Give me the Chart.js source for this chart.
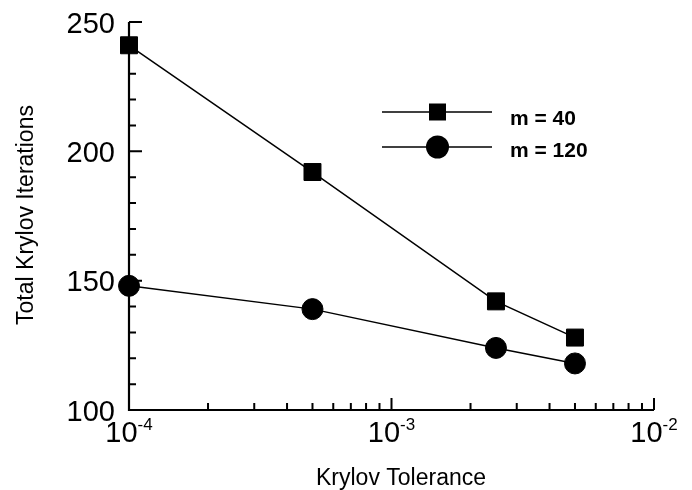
<!DOCTYPE html>
<html lang="en">
<head>
  <meta charset="UTF-8" />
  <title>Krylov Iterations</title>
  <script src="https://cdn.jsdelivr.net/npm/chart.js"></script>
  <style>
    body {
      margin: 0;
      background-color: #fff;
    }
    canvas {
      display: block;
    }
  </style>
</head>
<body>

  <canvas id="krylovChart" width="692" height="490"></canvas>

  <script>
    // data
    const tolerances = [1e-4, 5e-4, 2.5e-3, 5e-3];
    const itersM40 = [241, 192, 142, 128];
    const itersM120 = [148, 139, 124, 118];
    const seriesLabels = ['m = 40', 'm = 120'];

    const yTicks = [100, 150, 200, 250];
    const yMinorStep = 10;
    const xDecades = [-4, -3, -2];

    const FONT = '"Liberation Sans", Arial, Helvetica, sans-serif';

    function toPoints(xs, ys) {
      return xs.map((x, i) => ({ x: x, y: ys[i] }));
    }

    // hand drawn axes, inward ticks, labels and legend
    const axesPlugin = {
      id: 'axesPlugin',
      beforeDatasetsDraw(chart) {
        const ctx = chart.ctx;
        const xs = chart.scales.x;
        const ys = chart.scales.y;
        const a = chart.chartArea;
        ctx.save();
        ctx.strokeStyle = '#000';
        ctx.lineWidth = 2.2;
        ctx.beginPath();
        ctx.moveTo(a.left, a.top);
        ctx.lineTo(a.left, a.bottom);
        ctx.lineTo(a.right, a.bottom);
        ctx.stroke();

        ctx.lineWidth = 2;
        ctx.beginPath();
        // y ticks
        for (let v = ys.min; v <= ys.max; v += yMinorStep) {
          const py = ys.getPixelForValue(v);
          const len = yTicks.includes(v) ? 13 : 7;
          ctx.moveTo(a.left, py);
          ctx.lineTo(a.left + len, py);
        }
        // x ticks, decades and 2..9 minors
        xDecades.forEach((d, i) => {
          const base = Math.pow(10, d);
          const px = xs.getPixelForValue(base);
          ctx.moveTo(px, a.bottom);
          ctx.lineTo(px, a.bottom - 12);
          if (i < xDecades.length - 1) {
            for (let k = 2; k <= 9; k++) {
              const mx = xs.getPixelForValue(k * base);
              ctx.moveTo(mx, a.bottom);
              ctx.lineTo(mx, a.bottom - 7);
            }
          }
        });
        ctx.stroke();
        ctx.restore();
      },
      afterDraw(chart) {
        const ctx = chart.ctx;
        const xs = chart.scales.x;
        const ys = chart.scales.y;
        ctx.save();
        ctx.fillStyle = '#000';

        // y tick labels
        ctx.font = '29px ' + FONT;
        ctx.textAlign = 'right';
        ctx.textBaseline = 'alphabetic';
        yTicks.forEach(v => {
          ctx.fillText(String(v), 115, ys.getPixelForValue(v) + 10.5);
        });

        // x tick labels 10^d
        ctx.textAlign = 'left';
        xDecades.forEach(d => {
          const px = xs.getPixelForValue(Math.pow(10, d));
          ctx.font = '29px ' + FONT;
          const wBase = ctx.measureText('10').width;
          ctx.font = '17px ' + FONT;
          const sup = String(d);
          const wSup = ctx.measureText(sup).width;
          const x0 = px - (wBase + wSup) / 2;
          ctx.font = '29px ' + FONT;
          ctx.fillText('10', x0, 442);
          ctx.font = '17px ' + FONT;
          ctx.fillText(sup, x0 + wBase, 430);
        });

        // axis titles
        ctx.font = '23px ' + FONT;
        ctx.textAlign = 'center';
        ctx.fillText('Krylov Tolerance', 401, 485);
        ctx.save();
        ctx.translate(33, 215);
        ctx.rotate(-Math.PI / 2);
        ctx.fillText('Total Krylov Iterations', 0, 0);
        ctx.restore();

        // legend
        const rows = [
          { y: 112, text: 125, style: 'rect' },
          { y: 147, text: 157, style: 'circle' }
        ];
        rows.forEach((r, i) => {
          ctx.lineWidth = 1.5;
          ctx.strokeStyle = '#000';
          ctx.beginPath();
          ctx.moveTo(382, r.y);
          ctx.lineTo(492, r.y);
          ctx.stroke();
          ctx.beginPath();
          if (r.style === 'rect') {
            ctx.rect(437.5 - 8.5, r.y - 8.5, 17, 17);
          } else {
            ctx.arc(437.5, r.y, 11.5, 0, Math.PI * 2);
          }
          ctx.fill();
          ctx.font = 'bold 21px ' + FONT;
          ctx.textAlign = 'left';
          ctx.fillText(seriesLabels[i], 510, r.text);
        });
        ctx.restore();
      }
    };

    const ctx = document.getElementById('krylovChart').getContext('2d');
    new Chart(ctx, {
      type: 'scatter',
      data: {
        datasets: [
          {
            label: seriesLabels[0],
            data: toPoints(tolerances, itersM40),
            showLine: true,
            borderColor: '#000',
            borderWidth: 1.5,
            pointStyle: 'rect',
            pointRadius: 12,
            pointBorderWidth: 1,
            pointBackgroundColor: '#000',
            pointBorderColor: '#000',
            clip: false
          },
          {
            label: seriesLabels[1],
            data: toPoints(tolerances, itersM120),
            showLine: true,
            borderColor: '#000',
            borderWidth: 1.5,
            pointStyle: 'circle',
            pointRadius: 10.5,
            pointBorderWidth: 1,
            pointBackgroundColor: '#000',
            pointBorderColor: '#000',
            clip: false
          }
        ]
      },
      options: {
        responsive: false,
        animation: false,
        layout: { padding: { left: 129, right: 38, top: 22, bottom: 80 } },
        plugins: {
          legend: { display: false },
          tooltip: { enabled: false }
        },
        scales: {
          x: { type: 'logarithmic', min: 1e-4, max: 1e-2, display: false },
          y: { type: 'linear', min: 100, max: 250, display: false }
        }
      },
      plugins: [axesPlugin]
    });
  </script>

</body>
</html>
